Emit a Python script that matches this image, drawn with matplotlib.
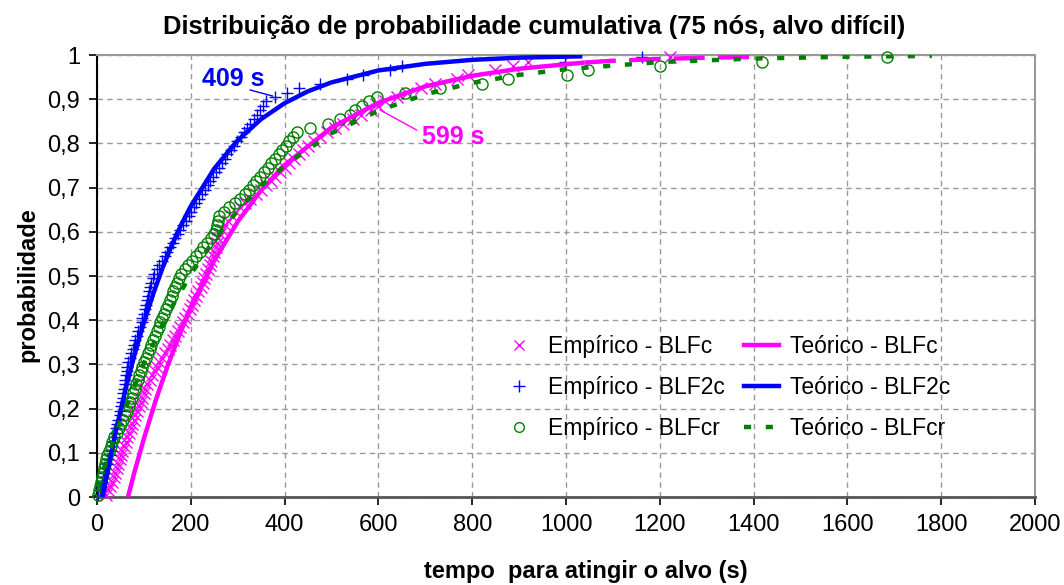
import matplotlib
matplotlib.use("Agg")
import matplotlib.pyplot as plt
from matplotlib.lines import Line2D

plt.rcParams['font.family'] = ['Liberation Sans', 'DejaVu Sans']

# ---------------- data ----------------
# empirical run times (s), sorted; plotted at rank probabilities
t_blfc = [20, 24, 28, 32, 36, 39, 42, 45, 48, 51, 54, 58, 62, 65, 68, 72, 75, 79, 82, 86,
          89, 93, 96, 100, 103, 107, 112, 118, 123, 128, 133, 139, 145, 151, 156, 161, 167, 172, 177, 183,
          188, 193, 198, 203, 207, 211, 216, 221, 225, 229, 232, 236, 240, 243, 247, 250, 253, 256, 259, 262,
          266, 272, 280, 288, 296, 305, 315, 326, 338, 350, 360, 370, 380, 390, 400, 410, 420, 430, 440, 450,
          462, 475, 490, 508, 525, 545, 562, 585, 600, 615, 640, 660, 690, 720, 767, 790, 849, 887, 919, 1222]
t_blf2c = [3, 6, 8, 11, 13, 15, 18, 21, 24, 27, 29, 32, 35, 37, 39, 41, 43, 45, 48, 50,
           52, 53, 55, 56, 57, 59, 60, 62, 64, 65, 67, 70, 73, 76, 79, 82, 85, 88, 91, 95,
           97, 100, 102, 105, 107, 109, 111, 114, 116, 119, 122, 127, 132, 138, 144, 150, 156, 162, 167, 172,
           178, 184, 190, 196, 201, 206, 212, 218, 224, 230, 236, 242, 248, 254, 260, 266, 272, 278, 285, 292,
           299, 306, 313, 320, 327, 334, 341, 347, 353, 360, 380, 405, 430, 475, 533, 567, 625, 650, 998, 1162]
t_blfcr = [2, 4, 6, 8, 10, 12, 14, 17, 19, 22, 25, 29, 33, 37, 42, 46, 51, 55, 60, 64,
           68, 71, 74, 77, 81, 84, 87, 90, 93, 96, 100, 104, 108, 112, 116, 120, 124, 128, 132, 135,
           139, 143, 147, 151, 155, 159, 163, 167, 171, 175, 180, 187, 195, 203, 211, 219, 227, 235, 243, 250,
           253, 255, 257, 260, 270, 282, 294, 305, 315, 324, 332, 340, 348, 356, 364, 372, 380, 388, 395, 402,
           410, 418, 426, 454, 493, 518, 539, 550, 565, 580, 597, 657, 731, 821, 876, 1002, 1047, 1200, 1418, 1684]

# theoretical (fitted) curves
th_blfc_t = [66, 80, 100, 125, 150, 175, 200, 250, 300, 350, 400, 500, 600, 700, 800, 900, 1040]
th_blfc_p = [0.0, 0.057, 0.132, 0.218, 0.295, 0.365, 0.428, 0.535, 0.623, 0.694, 0.751, 0.836, 0.892,
             0.929, 0.953, 0.969, 0.983]
th_blfc_tail_t = [1040, 1100, 1200, 1300, 1420]
th_blfc_tail_p = [0.983, 0.987, 0.991, 0.994, 0.996]

th_blf2c_t = [12, 20, 40, 60, 80, 100, 120, 140, 160, 180, 200, 250, 300, 350, 400, 450, 500, 600,
              700, 800, 900, 1035]
th_blf2c_p = [0.0, 0.045, 0.148, 0.240, 0.322, 0.395, 0.460, 0.519, 0.571, 0.617, 0.658, 0.743, 0.807,
              0.855, 0.891, 0.918, 0.938, 0.965, 0.980, 0.989, 0.994, 0.997]

th_blfcr_t = [0, 25, 50, 100, 150, 200, 250, 300, 350, 400, 500, 600, 700, 800, 900, 1000, 1200, 1400,
              1600, 1780]
th_blfcr_p = [0.017, 0.098, 0.172, 0.302, 0.412, 0.504, 0.582, 0.648, 0.704, 0.750, 0.823, 0.874, 0.911,
              0.937, 0.955, 0.968, 0.984, 0.992, 0.996, 0.998]

x_ticks = [0, 200, 400, 600, 800, 1000, 1200, 1400, 1600, 1800, 2000]
y_ticks = [0.0, 0.1, 0.2, 0.3, 0.4, 0.5, 0.6, 0.7, 0.8, 0.9, 1.0]
y_tick_labels = ['0', '0,1', '0,2', '0,3', '0,4', '0,5', '0,6', '0,7', '0,8', '0,9', '1']

title = 'Distribuição de probabilidade cumulativa (75 nós, alvo difícil)'
xlabel = 'tempo  para atingir o alvo (s)'
ylabel = 'probabilidade'

MAG = '#FF00FF'
BLU = '#0000FF'
GRN = '#008000'
GREEN_DASH = (0, (1.6, 3.3))


def rank_probs(ts):
    n = len(ts)
    return [(i + 0.5) / n for i in range(n)]


fig = plt.figure(figsize=(10.64, 5.85), dpi=100)
ax = fig.add_axes([97 / 1064, 88 / 585, 938 / 1064, 442 / 585])

ax.set_xlim(0, 2000)
ax.set_ylim(0, 1)
ax.set_xticks(x_ticks)
ax.set_yticks(y_ticks)
ax.set_yticklabels(y_tick_labels)
ax.tick_params(axis='both', labelsize=17, length=6, width=1.2, direction='out', pad=6)
ax.grid(True, color='#999999', linestyle=(0, (4, 3)), linewidth=1.0)
ax.set_axisbelow(True)
for s in ['top', 'right']:
    ax.spines[s].set_color('#999999')
    ax.spines[s].set_linewidth(1.5)
ax.spines['left'].set_color('black')
ax.spines['left'].set_linewidth(1.5)
ax.spines['bottom'].set_color('#555555')
ax.spines['bottom'].set_linewidth(2)

# empirical points
ax.plot(t_blfc, rank_probs(t_blfc), linestyle='none', marker='x', color=MAG, markersize=8,
        markeredgewidth=1.0, clip_on=False, zorder=3)
ax.plot(t_blf2c, rank_probs(t_blf2c), linestyle='none', marker='+', color=BLU, markersize=9,
        markeredgewidth=1.0, clip_on=False, zorder=3)
ax.plot(t_blfcr, rank_probs(t_blfcr), linestyle='none', marker='o', markerfacecolor='none',
        markeredgecolor=GRN, markersize=8, markeredgewidth=1.0, clip_on=False, zorder=3)

# theoretical curves
ax.plot(th_blfc_t, th_blfc_p, color=MAG, linewidth=3.2, solid_capstyle='butt', zorder=4)
ax.plot(th_blfc_tail_t, th_blfc_tail_p, color=MAG, linewidth=3.2, linestyle=(0, (7, 3)),
        dash_capstyle='butt', zorder=4)
ax.plot(th_blf2c_t, th_blf2c_p, color=BLU, linewidth=3.2, solid_capstyle='butt', zorder=4)
ax.plot(th_blfcr_t, th_blfcr_p, color=GRN, linewidth=3.2, linestyle=GREEN_DASH,
        dash_capstyle='butt', zorder=4)

# annotations: pointer lines + labels
ax.annotate('', xy=(375, 0.907), xytext=(326, 0.921),
            arrowprops=dict(arrowstyle='-', color=BLU, lw=1.0, shrinkA=0, shrinkB=0), zorder=6)
ax.text(290, 0.946, '409 s', color=BLU, fontsize=18, fontweight='bold', ha='center', va='center',
        zorder=6)
ax.annotate('', xy=(603, 0.876), xytext=(682, 0.830),
            arrowprops=dict(arrowstyle='-', color=MAG, lw=1.0, shrinkA=0, shrinkB=0), zorder=6)
ax.text(759, 0.814, '599 s', color=MAG, fontsize=18, fontweight='bold', ha='center', va='center',
        zorder=6)

# labels
fig.text(534 / 1064, 1 - 27 / 585, title, ha='center', va='center', fontsize=18.4, fontweight='bold')
ax.set_xlabel(xlabel, fontsize=17, fontweight='bold')
ax.xaxis.set_label_coords(0.521, -0.142)
ax.set_ylabel(ylabel, fontsize=17, fontweight='bold')
ax.yaxis.set_label_coords(-0.061, 0.48)

# legend
handles = [
    Line2D([], [], linestyle='none', marker='x', color=MAG, markersize=7, markeredgewidth=1.0),
    Line2D([], [], linestyle='none', marker='+', color=BLU, markersize=8, markeredgewidth=1.0),
    Line2D([], [], linestyle='none', marker='o', markerfacecolor='none', markeredgecolor=GRN,
           markersize=7, markeredgewidth=1.0),
    Line2D([], [], color=MAG, linewidth=3.2),
    Line2D([], [], color=BLU, linewidth=3.2),
    Line2D([], [], color=GRN, linewidth=3.2, linestyle=GREEN_DASH, dash_capstyle='butt'),
]
labels = ['Empírico - BLFc', 'Empírico - BLF2c', 'Empírico - BLFcr',
          'Teórico - BLFc', 'Teórico - BLF2c', 'Teórico - BLFcr']
leg = ax.legend(handles, labels, ncol=2, frameon=False, fontsize=16.5, loc='upper left',
                bbox_to_anchor=(502 / 1064, 1 - 335 / 585), bbox_transform=fig.transFigure,
                borderpad=0, borderaxespad=0, handlelength=1.5, handletextpad=0.5,
                columnspacing=0.85, labelspacing=0.78)

fig.savefig('out.png', dpi=100)
